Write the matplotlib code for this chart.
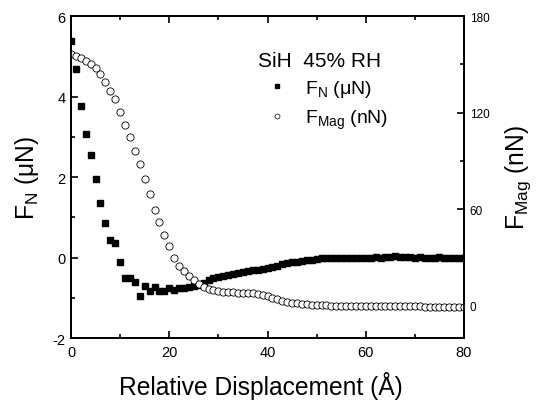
import numpy as np
import matplotlib
matplotlib.use('Agg')
import matplotlib.pyplot as plt
from matplotlib.ticker import MultipleLocator
from matplotlib.lines import Line2D

plt.rcParams['font.family'] = ['Liberation Sans', 'DejaVu Sans']
plt.rcParams['mathtext.fontset'] = 'custom'
plt.rcParams['mathtext.rm'] = 'Liberation Sans'
plt.rcParams['mathtext.it'] = 'Liberation Sans:italic'
plt.rcParams['axes.unicode_minus'] = False

# przemieszczenie (A), krok 1 A
disp = np.arange(0, 81)

# sila normalna F_N (uN)
f_n = [5.38, 4.68, 3.76, 3.07, 2.55, 1.96, 1.35, 0.86, 0.44, 0.35,
       -0.10, -0.52, -0.51, -0.62, -0.95, -0.70, -0.82, -0.74, -0.82, -0.82,
       -0.77, -0.81, -0.77, -0.76, -0.74, -0.71, -0.68, -0.63, -0.55, -0.52,
       -0.48, -0.46, -0.43, -0.40, -0.38, -0.36, -0.34, -0.32, -0.30, -0.28,
       -0.25, -0.24, -0.20, -0.16, -0.14, -0.12, -0.10, -0.08, -0.07, -0.06,
       -0.04, -0.02, 0.00, -0.01, -0.01, -0.02, -0.01, -0.01, 0.00, -0.01,
       0.00, 0.00, 0.01, 0.00, 0.02, 0.01, 0.03, 0.02, 0.01, 0.02,
       0.00, 0.01, 0.00, -0.01, 0.00, 0.01, 0.00, 0.00, -0.01, 0.00,
       0.00]

# sila magnetyczna F_Mag (nN)
f_mag = [156.5, 155.4, 153.7, 152.0, 150.2, 147.5, 143.8, 138.8, 133.6, 128.4,
         120.6, 112.5, 105.0, 96.3, 88.0, 78.8, 69.4, 59.5, 52.0, 44.0,
         37.0, 30.0, 25.0, 21.5, 18.5, 16.0, 13.5, 11.5, 10.3, 9.6,
         9.2, 8.8, 8.6, 8.4, 8.2, 8.0, 8.0, 8.0, 7.6, 6.9,
         6.0, 5.0, 4.0, 3.2, 2.5, 2.0, 1.6, 1.2, 0.9, 0.7,
         0.5, 0.3, 0.2, 0.1, 0.0, 0.0, -0.1, -0.1, -0.2, -0.2,
         -0.2, -0.3, -0.3, -0.3, -0.3, -0.4, -0.4, -0.4, -0.4, -0.4,
         -0.4, -0.4, -0.5, -0.5, -0.5, -0.5, -0.5, -0.5, -0.5, -0.5,
         -0.5]

fig = plt.figure(figsize=(5.36, 4.02), dpi=100)
ax = fig.add_axes([0.1325, 0.1567, 0.7332, 0.801])
ax2 = ax.twinx()

ax.plot(disp, f_n, linestyle='', marker='s', markersize=4.8, color='black', zorder=3)
ax2.plot(disp, f_mag, linestyle='', marker='o', markersize=5.2, markerfacecolor='white',
         markeredgecolor='black', markeredgewidth=0.6)

ax.set_xlim(0, 80)
ax.set_ylim(-2, 6)
ax2.set_ylim(-20, 180)

ax.xaxis.set_major_locator(MultipleLocator(20))
ax.xaxis.set_minor_locator(MultipleLocator(10))
ax.yaxis.set_major_locator(MultipleLocator(2))
ax.yaxis.set_minor_locator(MultipleLocator(1))
ax2.set_yticks([0, 60, 120, 180])
ax2.yaxis.set_minor_locator(MultipleLocator(30))

ax.tick_params(which='both', direction='in', top=True, right=False, width=1.2)
ax.tick_params(which='major', length=5, labelsize=10.5)
ax.tick_params(axis='x', which='major', pad=5)
ax.tick_params(axis='y', which='major', pad=4)
ax.tick_params(which='minor', length=3)
ax2.tick_params(which='both', direction='in', width=1.2)
ax2.tick_params(which='major', length=5, labelsize=8.5, pad=4)
ax2.tick_params(which='minor', length=3)

for a in (ax, ax2):
    for s in a.spines.values():
        s.set_linewidth(1.3)

ax.set_xlabel('Relative Displacement (Å)', fontsize=17.7, labelpad=9)
ax.xaxis.label.set_x(0.482)
ax.set_ylabel(r'F$_{\mathrm{N}}$ (μN)', fontsize=17.7, labelpad=8)
ax2.set_ylabel(r'F$_{\mathrm{Mag}}$ (nN)', fontsize=17.7, labelpad=10)

h1 = Line2D([], [], linestyle='', marker='s', markersize=3.2, color='black')
h2 = Line2D([], [], linestyle='', marker='o', markersize=3.6, markerfacecolor='white',
            markeredgecolor='black', markeredgewidth=0.5)
leg = ax.legend([h1, h2], [r'F$_{\mathrm{N}}$ (μN)', r'F$_{\mathrm{Mag}}$ (nN)'],
                title='SiH  45% RH', title_fontsize=15, fontsize=14,
                frameon=False, loc='upper left', bbox_to_anchor=(0.44, 0.935),
                handletextpad=0.45, labelspacing=0.45, borderpad=0.2)
leg._legend_box.align = 'left'

fig.savefig('out.png', dpi=100)
